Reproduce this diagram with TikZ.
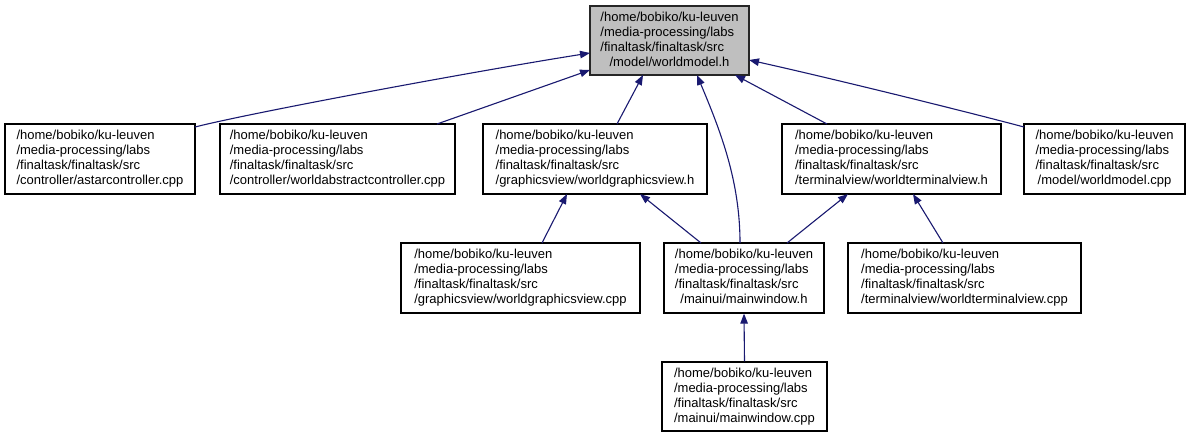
\documentclass[tikz,border=0pt]{standalone}
\usepackage{fontspec}
\setmainfont{Liberation Sans}
\usetikzlibrary{calc,arrows.meta}
\definecolor{edgeblue}{HTML}{191970}
\definecolor{topgrey}{HTML}{BFBFBF}
\newcommand{\flbl}[4]{\begin{tabular}{@{}l@{}}#1\\#2\\#3\\\multicolumn{1}{@{}c@{}}{#4}\end{tabular}}
\begin{document}
\begin{tikzpicture}[x=1pt,y=-1pt,
  filebox/.style={draw=black,line width=1.2pt,fill=white,inner sep=0pt,minimum height=70pt,
    font=\fontsize{13}{15}\selectfont},
  topbox/.style={filebox,fill=topgrey,draw=black!85,line width=1.7pt},
  edge/.style={draw=edgeblue,line width=1.1pt,-{Triangle[length=10pt,width=7.5pt]}}]
\useasboundingbox (0,0) rectangle (1190,437);
\fill[white] (0,0) rectangle (1190,437);

\node[topbox,minimum width=159pt,minimum height=69pt] (T) at (669.5,40.5)
  {\flbl{/home/bobiko/ku-leuven}{/media-processing/labs}{/finaltask/finaltask/src}{/model/worldmodel.h}};

\node[filebox,minimum width=190pt] (A) at (100,159)
  {\flbl{/home/bobiko/ku-leuven}{/media-processing/labs}{/finaltask/finaltask/src}{/controller/astarcontroller.cpp}};
\node[filebox,minimum width=235pt] (B) at (337.5,159)
  {\flbl{/home/bobiko/ku-leuven}{/media-processing/labs}{/finaltask/finaltask/src}{/controller/worldabstractcontroller.cpp}};
\node[filebox,minimum width=224pt] (C) at (595,159)
  {\flbl{/home/bobiko/ku-leuven}{/media-processing/labs}{/finaltask/finaltask/src}{/graphicsview/worldgraphicsview.h}};
\node[filebox,minimum width=219pt] (D) at (891.5,159)
  {\flbl{/home/bobiko/ku-leuven}{/media-processing/labs}{/finaltask/finaltask/src}{/terminalview/worldterminalview.h}};
\node[filebox,minimum width=161pt] (E) at (1104.5,159)
  {\flbl{/home/bobiko/ku-leuven}{/media-processing/labs}{/finaltask/finaltask/src}{/model/worldmodel.cpp}};

\node[filebox,minimum width=239pt] (F) at (520.5,278)
  {\flbl{/home/bobiko/ku-leuven}{/media-processing/labs}{/finaltask/finaltask/src}{/graphicsview/worldgraphicsview.cpp}};
\node[filebox,minimum width=160pt] (G) at (744,278)
  {\flbl{/home/bobiko/ku-leuven}{/media-processing/labs}{/finaltask/finaltask/src}{/mainui/mainwindow.h}};
\node[filebox,minimum width=233pt] (H) at (964.5,278)
  {\flbl{/home/bobiko/ku-leuven}{/media-processing/labs}{/finaltask/finaltask/src}{/terminalview/worldterminalview.cpp}};

\node[filebox,minimum width=165pt,minimum height=69pt] (I) at (744.5,396.5)
  {\flbl{/home/bobiko/ku-leuven}{/media-processing/labs}{/finaltask/finaltask/src}{/mainui/mainwindow.cpp}};

% edges to worldmodel.h
\draw[edge] ($(A.center)+(95,-32)$) .. controls ($(A.center)+(150,-46)$) and ($(T.center)+(-199.5,31.5)$) .. ($(T.center)+(-79.5,12.5)$);
\draw[edge] ($(B.center)+(99.5,-35)$) -- ($(T.center)+(-79.5,29.5)$);
\draw[edge] ($(C.center)+(22,-35)$) -- ($(T.center)+(-26.5,34.5)$);
\draw[edge] ($(G.center)+(-4,-35)$) .. controls ($(G.center)+(-4,-98)$) and ($(T.center)+(50.5,89.5)$) .. ($(T.center)+(27.5,34.5)$);
\draw[edge] ($(D.center)+(-64.5,-35)$) -- ($(T.center)+(65.5,34.5)$);
\draw[edge] ($(E.center)+(-80.5,-32)$) .. controls ($(E.center)+(-144.5,-49)$) and ($(T.center)+(160.5,37.5)$) .. ($(T.center)+(79.5,19.5)$);

% second level
\draw[edge] ($(F.center)+(21.5,-35)$) -- ($(C.center)+(-28,35)$);
\draw[edge] ($(G.center)+(-43,-35)$) -- ($(C.center)+(45,35)$);
\draw[edge] ($(G.center)+(43,-35)$) -- ($(D.center)+(-43.5,35)$);
\draw[edge] ($(H.center)+(-21.5,-35)$) -- ($(D.center)+(21.5,35)$);

% third level
\draw[edge] (I.north) -- (G.south);
\end{tikzpicture}
\end{document}
